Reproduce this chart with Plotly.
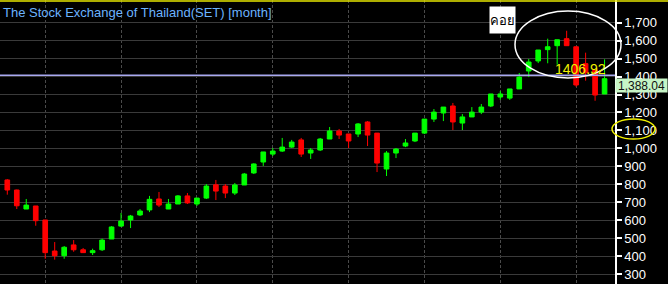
import plotly.graph_objects as go

# ---- data (monthly SET index candles) ----
MONTH_INDEX = list(range(64))
OPEN = [824, 768, 662, 679, 601, 428, 402, 462, 435, 419, 435, 495, 567, 601, 629, 657,
        718, 662, 690, 735, 690, 723, 797, 790, 751, 796, 863, 924, 968, 985, 1007, 1047,
        974, 991, 1052, 1097, 1080, 1080, 1147, 1085, 885, 974, 1013, 1041, 1085, 1163, 1197, 1236,
        1141, 1175, 1202, 1236, 1286, 1280, 1331, 1431, 1487, 1550, 1572, 1611, 1566, 1472, 1437, 1303]
HIGH = [829, 770, 718, 679, 601, 478, 456, 489, 445, 441, 497, 567, 640, 629, 662, 735,
        757, 718, 740, 751, 723, 801, 824, 801, 807, 863, 917, 980, 1002, 1058, 1047, 1058,
        1002, 1058, 1119, 1108, 1080, 1141, 1152, 1085, 985, 1002, 1052, 1085, 1163, 1219, 1230, 1253,
        1191, 1230, 1247, 1303, 1319, 1331, 1420, 1498, 1548, 1611, 1605, 1655, 1566, 1533, 1437, 1496]
LOW = [742, 662, 662, 569, 385, 380, 385, 424, 419, 406, 428, 495, 562, 556, 623, 645,
       673, 662, 690, 690, 679, 718, 712, 723, 740, 796, 857, 902, 957, 980, 1002, 952,
       941, 985, 1052, 1052, 1002, 1063, 1013, 868, 846, 946, 1007, 1035, 1080, 1147, 1152, 1102,
       1102, 1175, 1191, 1230, 1270, 1270, 1331, 1397, 1475, 1474, 1466, 1572, 1343, 1377, 1265, 1303]
CLOSE = [768, 680, 684, 597, 419, 402, 449, 435, 419, 430, 489, 562, 595, 623, 651, 716,
         684, 690, 735, 696, 723, 790, 762, 751, 796, 857, 913, 980, 985, 1007, 1035, 968,
         991, 1052, 1097, 1074, 1041, 1136, 1074, 918, 974, 996, 1030, 1085, 1163, 1202, 1230, 1147,
         1175, 1202, 1230, 1303, 1303, 1331, 1397, 1481, 1548, 1566, 1605, 1572, 1353, 1421, 1297, 1388]

TICK_VALUES = [300, 400, 500, 600, 700, 800, 900, 1000, 1100, 1200, 1300, 1400, 1500, 1600, 1700]
TICK_LABELS = ["300", "400", "500", "600", "700", "800", "900", "1,000", "1,100", "1,200",
               "1,300", "1,400", "1,500", "1,600", "1,700"]
VGRID_POS = [4, 12, 20, 28, 36, 44, 52, 60]

TITLE = "The Stock Exchange of Thailand(SET) [month]"
REF_LINE = 1406.92
REF_LABEL = "1406.92"
LAST_LABEL = "1,388.04"
LAST_VALUE = 1388.04
NOTE = "คอย"

W, H = 668, 284
PLOT_W = 615

fig = go.Figure()
fig.add_trace(go.Candlestick(
    x=MONTH_INDEX, open=OPEN, high=HIGH, low=LOW, close=CLOSE,
    increasing=dict(line=dict(color="#00ff00", width=1), fillcolor="#00ff00"),
    decreasing=dict(line=dict(color="#ff0000", width=1), fillcolor="#ff0000"),
    whiskerwidth=0, showlegend=False, hoverinfo="skip",
))

# reference price line
fig.add_shape(type="line", xref="paper", yref="y", x0=0, x1=1, y0=REF_LINE, y1=REF_LINE,
              line=dict(color="#a8a8f0", width=1.5), layer="above")

def px_x(p):
    return p / PLOT_W

def px_y(p):
    return 1 - p / H

# white ellipse (highlight)
fig.add_shape(type="circle", xref="paper", yref="paper",
              x0=px_x(515), x1=px_x(621), y0=px_y(78), y1=px_y(11),
              line=dict(color="white", width=1.5), layer="above")
# yellow ellipse around 1,100 label
fig.add_shape(type="circle", xref="paper", yref="paper",
              x0=px_x(612), x1=px_x(655), y0=px_y(139), y1=px_y(119),
              line=dict(color="#f0f000", width=1.5), layer="above")
# top yellow border
fig.add_shape(type="line", xref="paper", yref="paper", x0=0, x1=W / PLOT_W,
              y0=px_y(1), y1=px_y(1), line=dict(color="#e8e800", width=1.5), layer="above")

fig.add_annotation(text=TITLE, xref="paper", yref="paper", x=px_x(1), y=px_y(3),
                   xanchor="left", yanchor="top", showarrow=False,
                   font=dict(family="Liberation Sans, Arial, sans-serif", size=13, color="#6cb4ff"))
fig.add_annotation(text=REF_LABEL, xref="paper", yref="paper", x=px_x(580), y=px_y(69),
                   xanchor="center", yanchor="middle", showarrow=False,
                   font=dict(family="Liberation Sans Narrow, Arial Narrow, Liberation Sans, sans-serif",
                             size=14, color="#f0f000"))
fig.add_annotation(text=LAST_LABEL, xref="paper", yref="paper", x=1, y=px_y(78),
                   xanchor="left", yanchor="top", showarrow=False, width=51, height=13,
                   bgcolor="#c6f5c6", borderpad=0, align="center",
                   font=dict(family="Liberation Sans, Arial, sans-serif", size=12, color="#111111"))
fig.add_annotation(text=NOTE, xref="paper", yref="paper", x=px_x(502.5), y=px_y(20),
                   xanchor="center", yanchor="middle", showarrow=False,
                   width=25, height=26, bgcolor="white", borderpad=0,
                   font=dict(family="Noto Sans, DejaVu Sans, sans-serif", size=13, color="black"))

fig.update_layout(
    width=W, height=H,
    margin=dict(l=0, r=W - PLOT_W, t=0, b=0),
    paper_bgcolor="black", plot_bgcolor="black",
    xaxis=dict(range=[-0.77, 64.1], rangeslider=dict(visible=False),
               tickvals=VGRID_POS, showticklabels=False, ticks="",
               showgrid=True, gridcolor="#4a4a4a", griddash="3px,2px", gridwidth=1,
               zeroline=False, showline=False, fixedrange=True),
    yaxis=dict(range=[244.3, 1826.5], side="right",
               tickvals=TICK_VALUES, ticktext=TICK_LABELS,
               showgrid=True, gridcolor="#3a3a3a", gridwidth=1,
               showline=True, linecolor="white", linewidth=1.5,
               ticks="outside", ticklen=5, tickcolor="white", tickwidth=1.5,
               tickfont=dict(family="Liberation Sans, Arial, sans-serif", size=13, color="white"),
               zeroline=False, fixedrange=True),
)

fig.write_html("out.html")
